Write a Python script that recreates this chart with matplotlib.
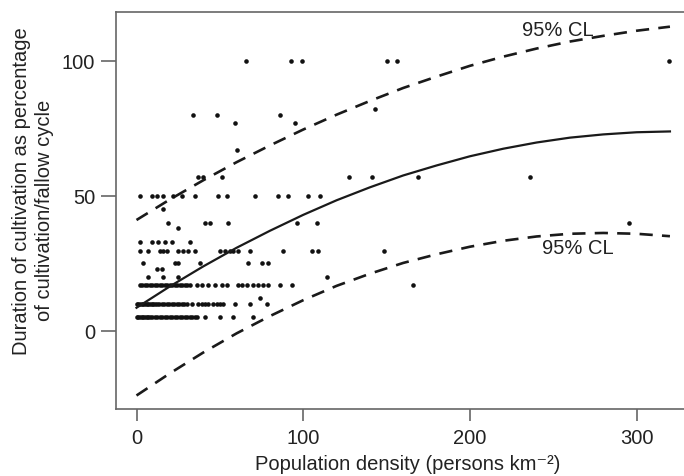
import matplotlib
matplotlib.use("Agg")
import matplotlib.pyplot as plt

plt.rcParams['font.family'] = ['Liberation Sans', 'DejaVu Sans']

# ---- data ----
# scatter points: (population density, % cultivation)
x_100 = [65.7, 92.5, 99.1, 150.4, 156.4, 319.4]
x_82 = [143.1]
x_80 = [34.1, 48.1, 86.1]
x_77 = [59.1, 95.1]
x_67 = [60.1]
x_57 = [37.1, 40.1, 51.1, 127.7, 141.5, 169.0, 236.1]
x_50 = [2.1, 9.1, 12.1, 16.1, 22.1, 27.1, 35.1, 49.1, 54.1, 71.1, 85.1, 91.1, 103.1, 110.1]
x_45 = [16.1]
x_40 = [19.1, 41.1, 44.1, 55.1, 96.1, 108.1, 295.6]
x_38 = [25.1]
x_33 = [2.1, 9.1, 13.1, 17.1, 21.1, 32.1]
x_30 = [2.1, 7.1, 14.1, 16.1, 18.1, 25.1, 27.9, 30.9, 35.1, 50.1, 53.1, 56.1, 58.1,
        61.1, 68.1, 88.1, 105.2, 109.1, 148.7]
x_25 = [4.1, 23.1, 25.1, 38.1, 67.1, 75.1, 79.1]
x_23 = [12.1, 15.1]
x_20 = [7.1, 16.1, 25.1, 114.1]
x_17 = [2, 3.5, 5, 6.5, 8, 9.5, 11, 12.5, 14, 15.5, 17, 18.5, 20, 21.5, 23, 24.5, 26,
        27.5, 29, 30.5, 32, 36, 39, 43, 47, 51, 54, 61, 63, 66, 70, 73, 76, 79, 86, 93, 165.7]
x_12 = [74.1]
x_10 = [0, 1, 2, 3, 4, 5, 6, 7, 8, 9, 10, 11, 12, 13.5, 15, 16.5, 18, 19.5, 21, 22.5,
        24, 25.5, 27, 28.5, 30, 33, 37, 39, 41, 43, 46, 48, 50, 52, 59, 68, 78]
x_5 = [0, 1, 2, 3, 4, 5, 6, 7, 8, 9.5, 11, 12.5, 14, 15.5, 17, 18.5, 20, 21.5, 23, 24.5,
       26, 27.5, 29, 30.5, 32, 33.5, 35, 36, 41, 50, 58, 70]

rows = [(100, x_100), (82, x_82), (80, x_80), (77, x_77), (67, x_67), (57, x_57),
        (50, x_50), (45, x_45), (40, x_40), (38, x_38), (33, x_33), (29.5, x_30),
        (25, x_25), (23, x_23), (20, x_20), (17, x_17), (12, x_12), (10, x_10), (5, x_5)]

# fitted curve and 95% confidence limits
curve_x = [0, 20, 40, 60, 80, 100, 120, 140, 160, 180, 200, 220, 240, 260, 280, 300, 320]
fit_y = [8.5, 16.4, 23.8, 30.7, 37.0, 42.9, 48.3, 53.1, 57.5, 61.2, 64.6, 67.4, 69.7,
         71.5, 72.7, 73.5, 73.8]
upper_y = [41.0, 48.6, 55.7, 62.4, 68.6, 74.5, 80.0, 85.1, 89.9, 94.1, 98.1, 101.5,
           104.5, 107.1, 109.2, 111.1, 112.6]
lower_y = [-24.0, -15.8, -8.1, -1.0, 5.4, 11.3, 16.6, 21.1, 25.1, 28.3, 31.1, 33.3,
           34.9, 35.9, 36.2, 35.9, 35.0]

x_ticks = [0, 100, 200, 300]
y_ticks = [0, 50, 100]

# ---- figure ----
W, H = 684, 477
fig = plt.figure(figsize=(W / 100, H / 100), dpi=100)
left, right, top, bottom = 116, 700, 13.3, 410
ax = fig.add_axes([left / W, 1 - bottom / H, (right - left) / W, (bottom - top) / H])

x0, x1 = (left - 136.5) / 1.667, (right - 136.5) / 1.667
y1, y0 = (331.7 - top) / 2.7, (331.7 - bottom) / 2.7
ax.set_xlim(x0, x1)
ax.set_ylim(y0, y1)

pts_x, pts_y = [], []
for yv, xs in rows:
    for xv in xs:
        pts_x.append(xv)
        pts_y.append(yv)
ax.plot(pts_x, pts_y, linestyle='none', marker='o', markersize=3.3,
        color='#111111', markeredgewidth=0)

ax.plot(curve_x, fit_y, color='#1a1a1a', lw=1.6)
ax.plot(curve_x, upper_y, color='#1a1a1a', lw=1.9, dashes=(5, 3.5))
ax.plot(curve_x, lower_y, color='#1a1a1a', lw=1.9, dashes=(5, 3.5))

ax.text(253, 111.5, "95% CL", ha='center', va='center', fontsize=14.5, color='#222222')
ax.text(265, 30.8, "95% CL", ha='center', va='center', fontsize=14.5, color='#222222')

for s in ax.spines.values():
    s.set_color('#666666')
    s.set_linewidth(1.2)

ax.set_xticks(x_ticks)
ax.set_yticks(y_ticks)
ax.tick_params(axis='both', colors='#666666', labelcolor='#222222', labelsize=14.5,
               width=1.2)
ax.tick_params(axis='x', length=8.5, pad=5)
ax.tick_params(axis='y', length=11, pad=4)

fig.text(407.6 / W, 1 - 465 / H, "Population density (persons km\u207b\u00b2)",
         ha='center', va='center', fontsize=14.5, color='#222222')
fig.text(21.7 / W, 1 - 191.5 / H, "Duration of cultivation as percentage",
         rotation=90, ha='center', va='center', fontsize=14.5, color='#222222')
fig.text(45 / W, 1 - 210 / H, "of cultivation/fallow cycle",
         rotation=90, ha='center', va='center', fontsize=14.5, color='#222222')

fig.savefig("out.png", dpi=100)
